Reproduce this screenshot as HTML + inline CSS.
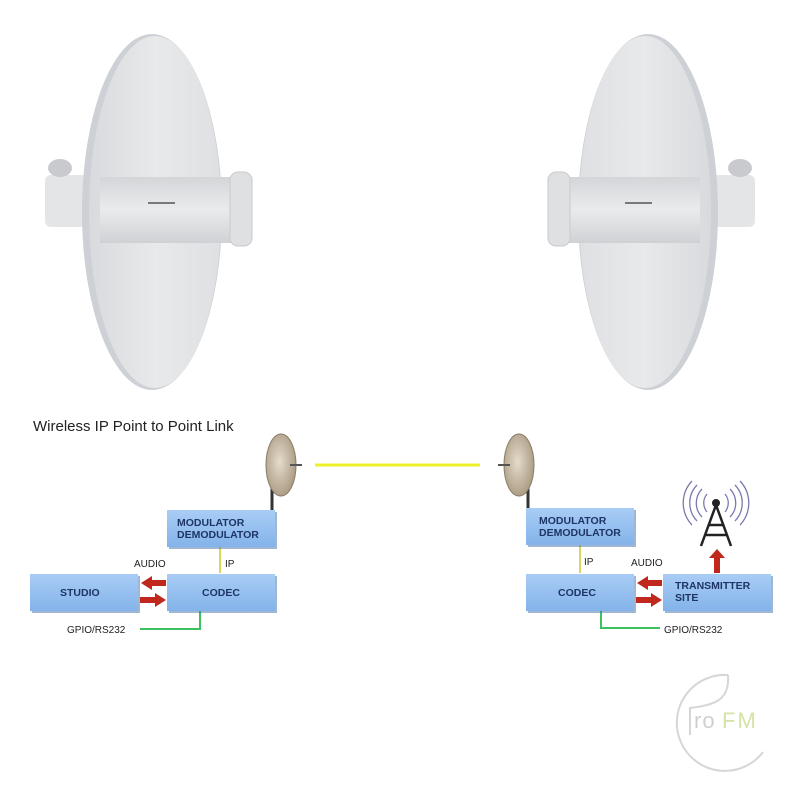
<!DOCTYPE html>
<html><head><meta charset="utf-8"><style>
body{margin:0;background:#fff;width:800px;height:800px;overflow:hidden;font-family:"Liberation Sans",sans-serif}
</style></head><body>
<svg width="800" height="800" xmlns="http://www.w3.org/2000/svg" font-family="Liberation Sans, sans-serif">
<defs>
<linearGradient id="dish" x1="0" y1="0" x2="1" y2="0"><stop offset="0" stop-color="#d8dadd"/><stop offset="0.5" stop-color="#e8e9eb"/><stop offset="1" stop-color="#dfe0e3"/></linearGradient>
<linearGradient id="cyl" x1="0" y1="0" x2="0" y2="1"><stop offset="0" stop-color="#d3d5d8"/><stop offset="0.5" stop-color="#eaebed"/><stop offset="1" stop-color="#cfd1d4"/></linearGradient>
<linearGradient id="box" x1="0" y1="0" x2="0" y2="1"><stop offset="0" stop-color="#a9cdf5"/><stop offset="1" stop-color="#84b3ea"/></linearGradient>
<radialGradient id="sd" cx="0.45" cy="0.45" r="0.6"><stop offset="0" stop-color="#e5dccb"/><stop offset="1" stop-color="#a89880"/></radialGradient>
<g id="bigdish">
<rect x="45" y="175" width="45" height="52" rx="6" fill="#e4e5e7"/>
<ellipse cx="60" cy="168" rx="12" ry="9" fill="#c8cacd"/>
<ellipse cx="152" cy="212" rx="70" ry="178" fill="#cdd0d4"/>
<ellipse cx="155" cy="212" rx="66" ry="176" fill="url(#dish)"/>
<rect x="100" y="177" width="140" height="66" fill="url(#cyl)"/>
<rect x="230" y="172" width="22" height="74" rx="8" fill="#dfe0e2" stroke="#c8cacd"/>
<line x1="148" y1="203" x2="175" y2="203" stroke="#555" stroke-width="1.5"/>
</g>
<g id="bx">
<rect x="2" y="2" width="108" height="37" fill="#3f6fa8" opacity="0.5"/>
<rect x="0" y="0" width="108" height="37" fill="url(#box)"/>
</g>
</defs>
<use href="#bigdish"/>
<use href="#bigdish" transform="translate(800,0) scale(-1,1)"/>

<text x="33" y="431" font-size="15" fill="#222">Wireless IP Point to Point Link</text>

<line x1="315" y1="465" x2="480" y2="465" stroke="#eef02a" stroke-width="3"/>
<line x1="272" y1="485" x2="272" y2="510" stroke="#333" stroke-width="3"/>
<ellipse cx="281" cy="465" rx="15" ry="31" fill="url(#sd)" stroke="#8a7a66"/>
<line x1="290" y1="465" x2="302" y2="465" stroke="#555" stroke-width="2"/>
<line x1="528" y1="485" x2="528" y2="508" stroke="#333" stroke-width="3"/>
<ellipse cx="519" cy="465" rx="15" ry="31" fill="url(#sd)" stroke="#8a7a66"/>
<line x1="498" y1="465" x2="510" y2="465" stroke="#555" stroke-width="2"/>

<line x1="220" y1="547" x2="220" y2="573" stroke="#d8d860" stroke-width="2"/>
<line x1="580" y1="545" x2="580" y2="573" stroke="#d8d860" stroke-width="2"/>
<polyline points="140,629 200,629 200,610" fill="none" stroke="#3cc060" stroke-width="2"/>
<polyline points="601,610 601,628 660,628" fill="none" stroke="#3cc060" stroke-width="2"/>

<use href="#bx" x="167" y="510"/>
<use href="#bx" x="30" y="574"/>
<use href="#bx" x="167" y="574"/>
<use href="#bx" x="526" y="508"/>
<use href="#bx" x="526" y="574"/>
<use href="#bx" x="663" y="574"/>

<g font-size="10.5" font-weight="bold" fill="#1e3566">
<text x="177" y="526">MODULATOR</text><text x="177" y="538">DEMODULATOR</text>
<text x="60" y="596">STUDIO</text>
<text x="202" y="596">CODEC</text>
<text x="539" y="524">MODULATOR</text><text x="539" y="536">DEMODULATOR</text>
<text x="558" y="596">CODEC</text>
<text x="675" y="589">TRANSMITTER</text><text x="675" y="601">SITE</text>
</g>
<g font-size="10" fill="#222">
<text x="134" y="567">AUDIO</text><text x="225" y="567">IP</text>
<text x="67" y="633">GPIO/RS232</text>
<text x="584" y="565">IP</text><text x="631" y="566">AUDIO</text>
<text x="664" y="633">GPIO/RS232</text>
</g>

<g fill="#c0281e">
<polygon points="166,580 152,580 152,576 141,583 152,590 152,586 166,586"/>
<polygon points="140,597 155,597 155,593 166,600 155,607 155,603 140,603"/>
<polygon points="662,580 648,580 648,576 637,583 648,590 648,586 662,586"/>
<polygon points="636,597 651,597 651,593 662,600 651,607 651,603 636,603"/>
<polygon points="714,573 714,558 709,558 717,549 725,558 720,558 720,573"/>
</g>

<g stroke="#222" stroke-width="2.5" fill="none">
<line x1="716" y1="505" x2="701" y2="546"/>
<line x1="716" y1="505" x2="731" y2="546"/>
<line x1="708" y1="525" x2="724" y2="525"/>
<line x1="705" y1="535" x2="727" y2="535"/>
</g>
<circle cx="716" cy="503" r="4" fill="#222"/>
<g stroke="#7a7ab0" stroke-width="1.3" fill="none">
<path d="M707,494 a14,14 0 0 0 0,18"/><path d="M702,489 a20,20 0 0 0 0,28"/><path d="M697,485 a26,26 0 0 0 0,36"/><path d="M692,481 a32,32 0 0 0 0,44"/>
<path d="M725,494 a14,14 0 0 1 0,18"/><path d="M730,489 a20,20 0 0 1 0,28"/><path d="M735,485 a26,26 0 0 1 0,36"/><path d="M740,481 a32,32 0 0 1 0,44"/>
</g>

<path d="M728,675 A48,48 0 1 0 763,752" fill="none" stroke="#d6d6d6" stroke-width="2"/>
<path d="M728,675 C730,700 715,705 690,708 L690,735" fill="none" stroke="#d6d6d6" stroke-width="2"/>
<text x="694" y="728" font-size="22" fill="#cfcfcf" letter-spacing="1">ro</text>
<text x="722" y="728" font-size="22" fill="#d4e3a6" letter-spacing="2">FM</text>
</svg>
</body></html>
